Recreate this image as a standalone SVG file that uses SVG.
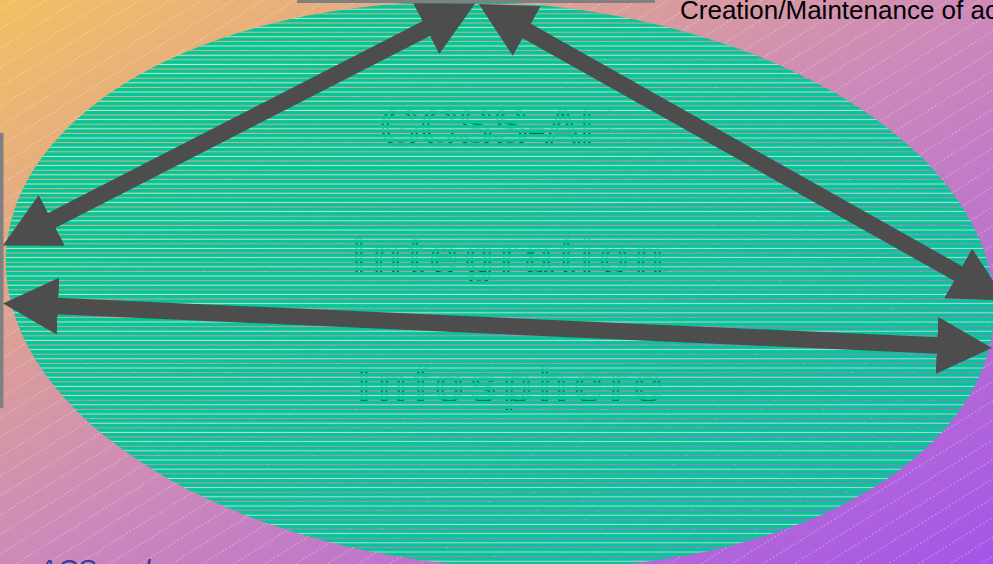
<svg xmlns="http://www.w3.org/2000/svg" width="993" height="564" viewBox="0 0 993 564">
<defs>
<linearGradient id="bg" x1="0" y1="0" x2="1" y2="1">
<stop offset="0" stop-color="#F2C062"/>
<stop offset="0.5" stop-color="#CD8AB9"/>
<stop offset="1" stop-color="#A555E8"/>
</linearGradient>
<pattern id="hatch" patternUnits="userSpaceOnUse" width="40" height="16.5" patternTransform="rotate(-32)">
<line x1="0" y1="8" x2="40" y2="8" stroke="#FFFFFF" stroke-opacity="0.45" stroke-width="0.8" stroke-dasharray="2 2"/>
</pattern>
<pattern id="stripes" patternUnits="userSpaceOnUse" x="0" y="0.5" width="20" height="9.2">
<rect x="0" y="0" width="20" height="3.6" fill="#02C796"/>
<rect x="0" y="4.6" width="20" height="3.6" fill="#02C796"/>
<rect x="0" y="8.2" width="20" height="1" fill="#D2F2E4" fill-opacity="0.7"/>
</pattern>
<marker id="head" markerUnits="userSpaceOnUse" viewBox="0 0 55 57" markerWidth="55" markerHeight="57" refX="1" refY="28.5" orient="auto-start-reverse">
<path d="M0,0 L55,28.5 L0,57 Z" fill="#4D4D4D"/>
</marker>
</defs>
<style>
.lbl{font-family:"Liberation Sans",Arial,sans-serif;fill:none;stroke:#05613C;stroke-width:2.2}
.conn{stroke:#4D4D4D;stroke-width:16.5;fill:none;marker-start:url(#head);marker-end:url(#head)}
.box{fill:#808080}
</style>
<rect x="0" y="0" width="993" height="564" fill="url(#bg)"/>
<rect x="0" y="0" width="993" height="564" fill="url(#hatch)"/>
<g id="ellipse-labels">
<text class="lbl" x="380" y="145" font-size="52" textLength="232" lengthAdjust="spacing">GCSS-AF</text>
<text class="lbl" x="352" y="273" font-size="50" textLength="311" lengthAdjust="spacing">Integration</text>
<text class="lbl" x="357" y="401" font-size="50" textLength="305" lengthAdjust="spacing">Infosphere</text>
</g>
<g id="infosphere">
<path d="M 6.2 250.5 A 495 282 4 1 1 993.8 319.5 A 495 282 4 1 1 6.2 250.5 Z" fill="url(#stripes)"/>
</g>
<g id="connectors">
<line class="conn" x1="50.9" y1="220.9" x2="427.1" y2="28.1"/>
<line class="conn" x1="525.9" y1="30.5" x2="959" y2="274"/>
<line class="conn" x1="57" y1="306" x2="938" y2="345.5"/>
</g>
<g id="top-node">
<rect class="box" x="297" y="-50" width="358" height="53"/>
</g>
<g id="left-node">
<rect class="box" x="-50" y="133" width="53.5" height="275"/>
</g>
<g id="caption-top">
<text x="680" y="19" font-family="Liberation Sans, Arial, sans-serif" font-size="26" fill="#000000">Creation/Maintenance of ac</text>
</g>
<g id="caption-bottom">
<text x="38" y="579" font-family="Liberation Sans, Arial, sans-serif" font-size="28" font-style="italic" fill="#3B3B9B">ACS and</text>
</g>
</svg>
